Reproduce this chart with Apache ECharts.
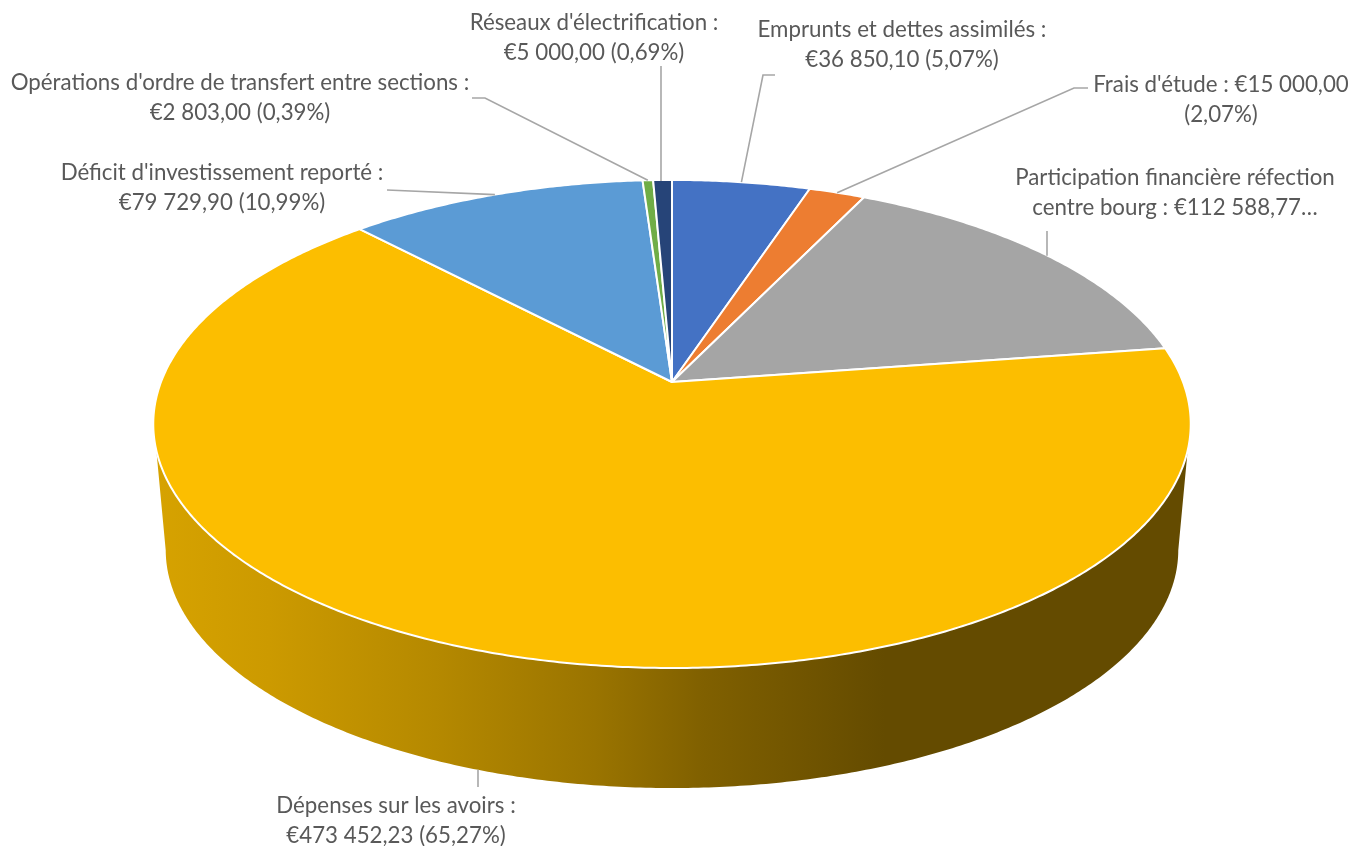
<!DOCTYPE html>
<html><head><meta charset="utf-8">
<style>html,body{margin:0;padding:0;background:#fff}#c{width:1359px;height:846px}</style>
<script src="https://cdn.jsdelivr.net/npm/echarts@6/dist/echarts.min.js"></script>
</head><body><div id="c"></div>
<script>
const categories = ["Emprunts et dettes assimilés","Frais d'étude","Participation financière réfection centre bourg","Dépenses sur les avoirs","Déficit d'investissement reporté","Opérations d'ordre de transfert entre sections","Réseaux d'électrification"];
const values = [36850.10,15000,112588.77,473452.23,79729.90,2803,5000];
const colors = ["#4472C4","#ED7D31","#A5A5A5","#FCBE00","#5B9BD5","#70AD47","#264478"];
const labelTexts = [
 "Emprunts et dettes assimilés :\n€36 850,10 (5,07%)",
 "Frais d'étude : €15 000,00\n(2,07%)",
 "Participation financière réfection\ncentre bourg : €112 588,77…",
 "Dépenses sur les avoirs :\n€473 452,23 (65,27%)",
 "Déficit d'investissement reporté :\n€79 729,90 (10,99%)",
 "Opérations d'ordre de transfert entre sections :\n€2 803,00 (0,39%)",
 "Réseaux d'électrification :\n€5 000,00 (0,69%)"
];
// label centres and leader-line elbows (page layout, not data)
const labelCentres = [[902,44.5],[1221,99.5],[1175,193],[396,820.5],[222,188],[240,98],[594,37.5]];
const leaderElbows = [[[775,75],[763,75]],[[1088,88],[1074,88]],[[1047,231]],[[478,787]],[[387,190]],[[472,98],[485,98]],[[661,66]]];

const total = values.reduce((a,b)=>a+b,0);
const CX=672, CY=382, A=511, B=236.8, K=0.172;       // perspective of the top face
const BASE_S=0.976, BASE_Y0=424, BASE_D=125.9;       // bottom rim relative to the top rim
const WALL_TOP=[106,254], WALL_BASE=[100,260];       // visible part of the side wall, degrees
function rim(deg){const t=deg*Math.PI/180,s=Math.sin(t),c=Math.cos(t),w=1+K*c;return [CX+A*s/w,CY-B*c/w];}
function base(deg){const p=rim(deg);return [CX+(p[0]-CX)*BASE_S,BASE_Y0+(p[1]-BASE_Y0)*BASE_S+BASE_D];}
function arc(f,a,b){const n=Math.max(2,Math.ceil(Math.abs(b-a))*2),o=[];for(let i=0;i<=n;i++)o.push(f(a+(b-a)*i/n));return o;}
const wallFill={type:'linear',global:true,x:160,y:0,x2:885,y2:0,colorStops:[
 {offset:0,color:'#D6A200'},{offset:0.15,color:'#CC9A00'},{offset:0.38,color:'#B58900'},{offset:0.6,color:'#9A7400'},{offset:0.75,color:'#806000'},{offset:1,color:'#644B00'}]};
let cum=0; const starts=values.map(v=>{const s=cum;cum+=v;return s/total*360;});

const chart=echarts.init(document.getElementById('c'),null,{renderer:'canvas'});
chart.setOption({
 animation:false,
 series:[{type:'custom',coordinateSystem:'none',silent:true,
  data:values.map((v,i)=>({value:[v,i],name:categories[i]})),
  renderItem(params,api){
   const i=api.value(1), a0=starts[i], a1=a0+api.value(0)/total*360, mid=(a0+a1)/2, kids=[];
   const ta=Math.max(a0,WALL_TOP[0]), tb=Math.min(a1,WALL_TOP[1]);
   if(tb>ta){
     const ba=Math.max(a0,WALL_BASE[0]), bb=Math.min(a1,WALL_BASE[1]);
     kids.push({type:'polygon',shape:{points:arc(rim,ta,tb).concat(arc(base,bb,ba))},style:{fill:wallFill}});
   }
   kids.push({type:'polygon',shape:{points:[[CX,CY]].concat(arc(rim,a0,a1))},
     style:{fill:colors[i],stroke:'#FFFFFF',lineWidth:2,lineJoin:'round'}});
   const front=mid>WALL_TOP[0]&&mid<WALL_TOP[1];
   let end=front?base(mid):rim(mid);
   const leader=leaderElbows[i].slice();
   const last=leader[leader.length-1];
   if(Math.abs(end[0]-last[0])<8) end=[last[0],end[1]+(front?0:1)];   // straight drop when nearly vertical
   kids.push({type:'polyline',shape:{points:leader.concat([end])},style:{fill:'none',stroke:'#A6A6A6',lineWidth:1.6},z2:5});
   kids.push({type:'text',x:labelCentres[i][0],y:labelCentres[i][1],z2:6,
     style:{text:labelTexts[i],align:'center',verticalAlign:'middle',fill:'#595959',fontFamily:'Lato',fontSize:22.3,lineHeight:30}});
   return {type:'group',children:kids};
  }}]
});
</script></body></html>
